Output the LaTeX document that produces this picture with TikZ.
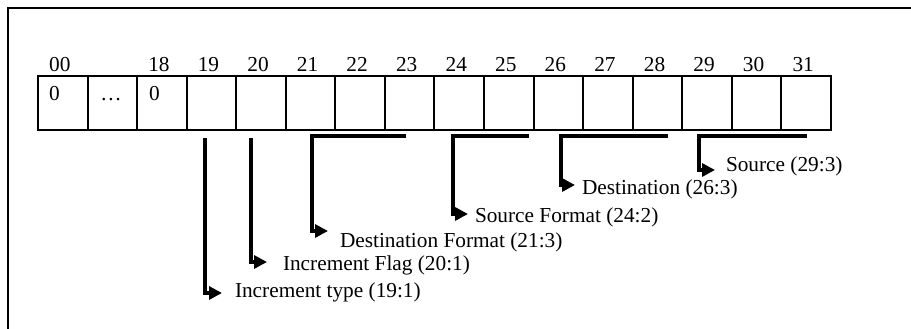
\documentclass[tikz,border=0pt]{standalone}
\usepackage{fontspec}
\setmainfont{Liberation Serif}
\usetikzlibrary{arrows.meta}
\begin{document}
\begin{tikzpicture}[x=1pt,y=-1pt,
  every node/.style={inner sep=0pt,outer sep=0pt,font=\fontsize{21.3}{24}\selectfont},
  cell/.style={draw,line width=2pt,minimum width=49.56pt,minimum height=54pt,anchor=north west},
  bitnum/.style={anchor=base},
  brk/.style={line width=4.5pt,line join=miter},
  brkarrow/.style={brk,-{Triangle[length=13pt,width=13pt]}},
  lbl/.style={anchor=west}]
\useasboundingbox (0,0) rectangle (911,329);
\draw[line width=2pt] (8,329) -- (8,8) -- (911,8);
% cells
\foreach \i in {0,...,15}{
  \node[cell] (c\i) at ({38+49.56*\i},76) {};
}
% bit numbers
\foreach \i/\t in {0/00,2/18,3/19,4/20,5/21,6/22,7/23,8/24,9/25,10/26,11/27,12/28,13/29,14/30,15/31}{
  \node[bitnum] (n\i) at ({38+49.56*\i+24.78-3},72) {\t};
}
% cell contents
\node[anchor=base west] (v0) at (49,100) {0};
\node[anchor=base] (v1) at (111,100) {…};
\node[anchor=base west] (v2) at (149,100) {0};
% connectors
\coordinate (b19) at (205,138);
\coordinate (a19) at (222,293);
\node[lbl] (t19) at (235,292) {Increment type (19:1)};
\draw[brkarrow] (b19) |- (a19);

\coordinate (b20) at (251,138);
\coordinate (a20) at (267,262);
\node[lbl] (t20) at (283,265) {Increment Flag (20:1)};
\draw[brkarrow] (b20) |- (a20);

\coordinate (e21) at (406,136);
\coordinate (b21) at (312,136);
\coordinate (a21) at (328,231);
\node[lbl] (t21) at (340,242) {Destination Format (21:3)};
\draw[brkarrow] (e21) -- (b21) |- (a21);

\coordinate (e24) at (529,136);
\coordinate (b24) at (453,136);
\coordinate (a24) at (468,214);
\node[lbl] (t24) at (475,217) {Source Format (24:2)};
\draw[brkarrow] (e24) -- (b24) |- (a24);

\coordinate (e26) at (668,136);
\coordinate (b26) at (561,136);
\coordinate (a26) at (575,185);
\node[lbl] (t26) at (582,189) {Destination (26:3)};
\draw[brkarrow] (e26) -- (b26) |- (a26);

\coordinate (e29) at (807,136);
\coordinate (b29) at (699,136);
\coordinate (a29) at (715,170);
\node[lbl] (t29) at (726,166) {Source (29:3)};
\draw[brkarrow] (e29) -- (b29) |- (a29);
\end{tikzpicture}
\end{document}
